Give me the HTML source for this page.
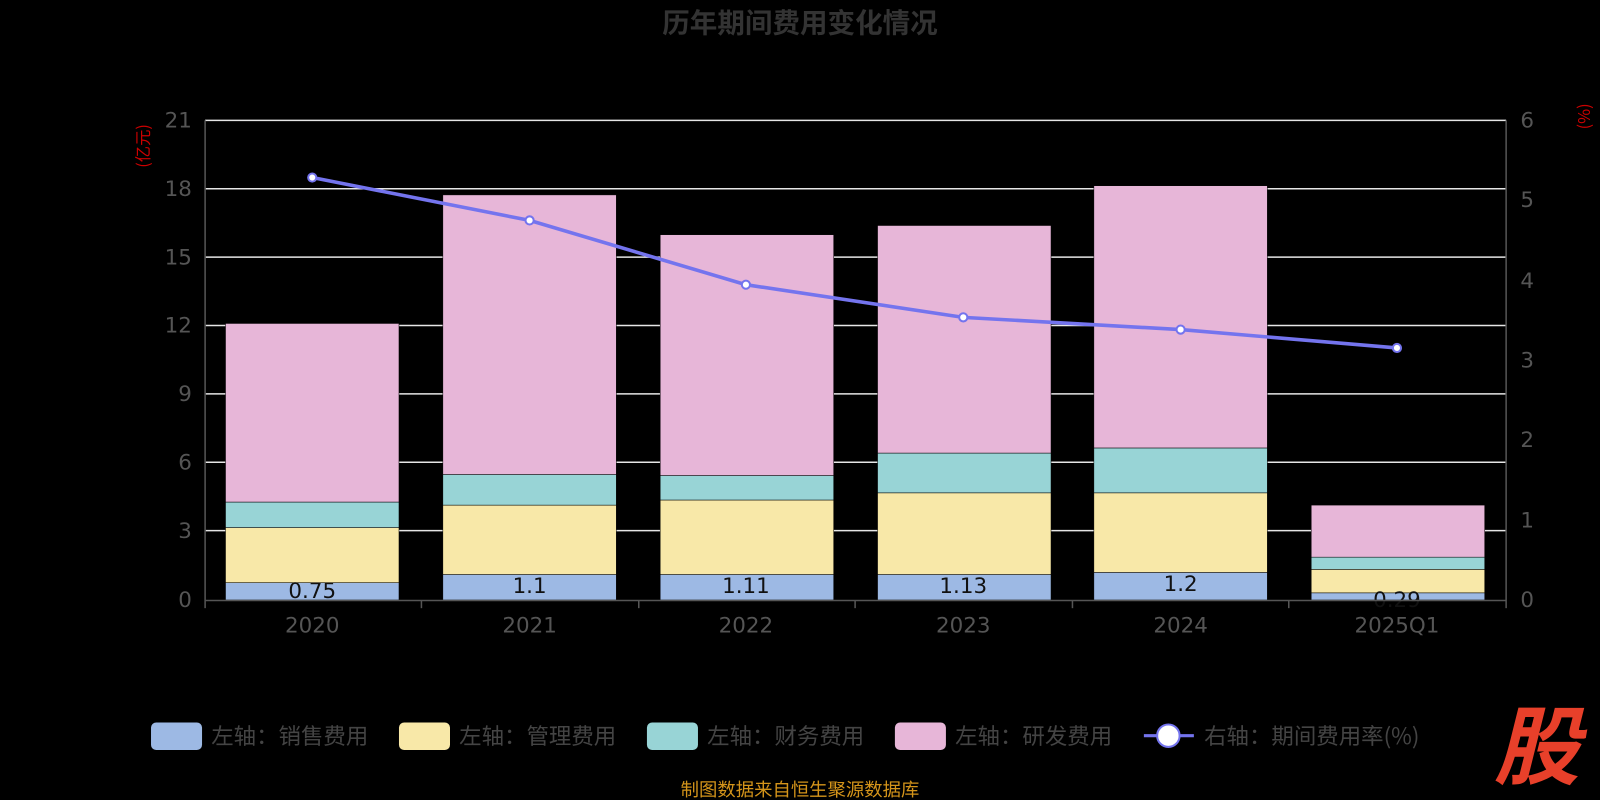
<!DOCTYPE html>
<html><head><meta charset="utf-8"><style>
html,body{margin:0;padding:0;background:#000;}
svg{display:block;font-family:"Noto Sans CJK SC","Liberation Sans",sans-serif;}
.n{font-family:"DejaVu Sans","Liberation Sans",sans-serif;}
</style></head><body>
<svg width="1600" height="800" viewBox="0 0 1568 784" xmlns="http://www.w3.org/2000/svg">
<rect width="1568" height="784" fill="#000"/>
<text x="784" y="32" text-anchor="middle" font-size="27" font-weight="bold" fill="#333">历年期间费用变化情况</text>
<g stroke="#e6e6e6" stroke-width="1.5">
<line x1="201" x2="1476" y1="118" y2="118"/><line x1="201" x2="1476" y1="185" y2="185"/>
<line x1="201" x2="1476" y1="252" y2="252"/><line x1="201" x2="1476" y1="319" y2="319"/>
<line x1="201" x2="1476" y1="386" y2="386"/><line x1="201" x2="1476" y1="453" y2="453"/>
<line x1="201" x2="1476" y1="520" y2="520"/>
</g>
<g fill="#555" font-size="21" class="n">
<text x="188" y="125" text-anchor="end">21</text><text x="188" y="192" text-anchor="end">18</text>
<text x="188" y="259" text-anchor="end">15</text><text x="188" y="326" text-anchor="end">12</text>
<text x="188" y="393" text-anchor="end">9</text><text x="188" y="460" text-anchor="end">6</text>
<text x="188" y="527" text-anchor="end">3</text><text x="188" y="595" text-anchor="end">0</text>
<text x="1490" y="125">6</text><text x="1490" y="203">5</text><text x="1490" y="282">4</text>
<text x="1490" y="360">3</text><text x="1490" y="438">2</text><text x="1490" y="517">1</text><text x="1490" y="595">0</text>
</g>
<text transform="translate(146,143) rotate(-90)" text-anchor="middle" fill="#c00" font-size="16">(亿元)</text>
<text transform="translate(1558,114) rotate(-90)" text-anchor="middle" fill="#c00" font-size="16">(%)</text>
<g stroke="#000" stroke-width="0.5">
<rect x="221" y="571" width="170" height="17" fill="#9db9e4"/><rect x="221" y="517" width="170" height="54" fill="#f8e8a8"/><rect x="221" y="492" width="170" height="25" fill="#98d4d6"/><rect x="221" y="317" width="170" height="175" fill="#e7b6d8"/>
<rect x="434" y="563" width="170" height="25" fill="#9db9e4"/><rect x="434" y="495" width="170" height="68" fill="#f8e8a8"/><rect x="434" y="465" width="170" height="30" fill="#98d4d6"/><rect x="434" y="191" width="170" height="274" fill="#e7b6d8"/>
<rect x="647" y="563" width="170" height="25" fill="#9db9e4"/><rect x="647" y="490" width="170" height="73" fill="#f8e8a8"/><rect x="647" y="466" width="170" height="24" fill="#98d4d6"/><rect x="647" y="230" width="170" height="236" fill="#e7b6d8"/>
<rect x="860" y="563" width="170" height="25" fill="#9db9e4"/><rect x="860" y="483" width="170" height="80" fill="#f8e8a8"/><rect x="860" y="444" width="170" height="39" fill="#98d4d6"/><rect x="860" y="221" width="170" height="223" fill="#e7b6d8"/>
<rect x="1072" y="561" width="170" height="27" fill="#9db9e4"/><rect x="1072" y="483" width="170" height="78" fill="#f8e8a8"/><rect x="1072" y="439" width="170" height="44" fill="#98d4d6"/><rect x="1072" y="182" width="170" height="257" fill="#e7b6d8"/>
<rect x="1285" y="581" width="170" height="7" fill="#9db9e4"/><rect x="1285" y="558" width="170" height="23" fill="#f8e8a8"/><rect x="1285" y="546" width="170" height="12" fill="#98d4d6"/><rect x="1285" y="495" width="170" height="51" fill="#e7b6d8"/>
</g>
<g font-size="21" fill="#111" text-anchor="middle" class="n">
<text x="306" y="586">0.75</text><text x="519" y="581">1.1</text><text x="731" y="581">1.11</text>
<text x="944" y="581">1.13</text><text x="1157" y="579">1.2</text><text x="1369" y="595">0.29</text>
</g>
<g stroke="#555" stroke-width="1.5">
<line x1="201" x2="1476" y1="588.5" y2="588.5"/><line x1="201" x2="201" y1="118" y2="588"/><line x1="1476" x2="1476" y1="118" y2="588"/>
<line x1="201" x2="201" y1="588" y2="596"/><line x1="413" x2="413" y1="588" y2="596"/><line x1="626" x2="626" y1="588" y2="596"/>
<line x1="838" x2="838" y1="588" y2="596"/><line x1="1051" x2="1051" y1="588" y2="596"/><line x1="1263" x2="1263" y1="588" y2="596"/><line x1="1476" x2="1476" y1="588" y2="596"/>
</g>
<g fill="#555" font-size="21" text-anchor="middle" class="n">
<text x="306" y="620">2020</text><text x="519" y="620">2021</text><text x="731" y="620">2022</text>
<text x="944" y="620">2023</text><text x="1157" y="620">2024</text><text x="1369" y="620">2025Q1</text>
</g>
<polyline points="306,174 519,216 731,279 944,311 1157,323 1369,341" fill="none" stroke="#7474ee" stroke-width="3.5"/>
<g fill="#fff" stroke="#7474ee" stroke-width="2">
<circle cx="306" cy="174" r="4"/><circle cx="519" cy="216" r="4"/><circle cx="731" cy="279" r="4"/>
<circle cx="944" cy="311" r="4"/><circle cx="1157" cy="323" r="4"/><circle cx="1369" cy="341" r="4"/>
</g>
<g font-size="22" fill="#444">
<rect x="148" y="708" width="50" height="27" rx="5" fill="#9db9e4"/><text x="207" y="729">左轴：销售费用</text>
<rect x="391" y="708" width="50" height="27" rx="5" fill="#f8e8a8"/><text x="450" y="729">左轴：管理费用</text>
<rect x="634" y="708" width="50" height="27" rx="5" fill="#98d4d6"/><text x="693" y="729">左轴：财务费用</text>
<rect x="877" y="708" width="50" height="27" rx="5" fill="#e7b6d8"/><text x="936" y="729">左轴：研发费用</text>
<line x1="1121" x2="1170" y1="721" y2="721" stroke="#7474ee" stroke-width="3"/>
<circle cx="1145" cy="721" r="11" fill="#fff" stroke="#7474ee" stroke-width="2"/>
<text x="1180" y="729">右轴：期间费用率(%)</text>
</g>
<text x="784" y="780" text-anchor="middle" font-size="18" fill="#d4941a">制图数据来自恒生聚源数据库</text>
<text x="1506" y="762" text-anchor="middle" font-size="84" font-weight="bold" font-style="italic" fill="#e8402a">股</text>
</svg>
</body></html>
